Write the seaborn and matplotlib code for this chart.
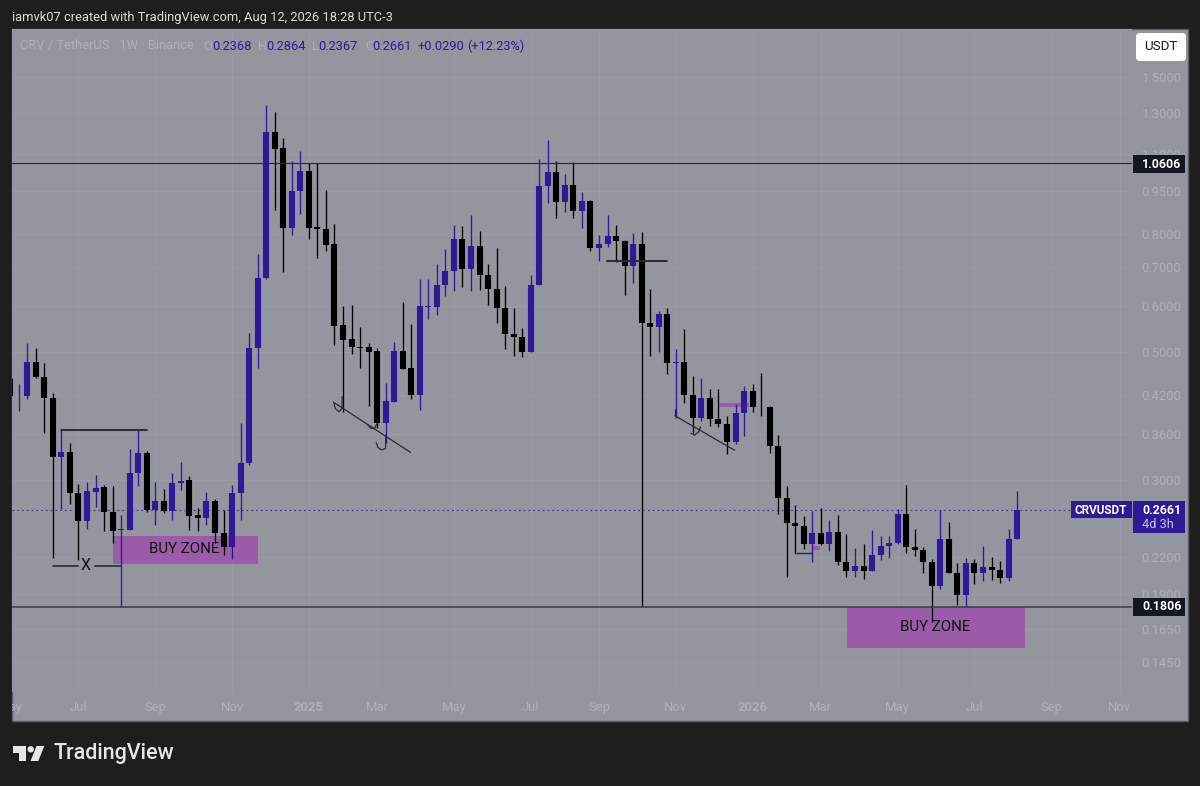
import numpy as np
import pandas as pd
import matplotlib
matplotlib.use("Agg")
import matplotlib.pyplot as plt
from matplotlib.patches import Rectangle, FancyBboxPatch, Polygon, Circle
from matplotlib.ticker import NullLocator
from matplotlib.transforms import Affine2D, blended_transform_factory
import seaborn as sns

first_week = pd.Timestamp("2024-05-06")

open_ = [.4479,.4183,.4188,.4804,.4523,.4159,.3286,.3349,.2847,.2546,
 .2860,.2911,.2636,.2450,.2453,.3083,.3335,.2652,.2757,.2645,
 .2955,.2995,.2604,.2570,.2757,.2426,.2294,.2840,.3201,.5079,
 .6718,1.2043,1.1300,.8202,.9491,1.0293,.8216,.8158,.7679,.5569,
 .5261,.5100,.5093,.5008,.3765,.4095,.5020,.4676,.4200,.5979,
 .5985,.6534,.6903,.7830,.6953,.7616,.6801,.6427,.5951,.5372,
 .5307,.5000,.6534,.9692,1.0251,.9094,.9731,.8783,.9130,.7554,
 .7697,.7937,.7772,.7040,.7679,.5615,.5522,.5805,.4785,.4798,
 .4200,.3829,.4154,.3818,.3741,.3490,.3918,.4274,.4013,.4003,
 .3434,.2789,.2519,.2492,.2319,.2421,.2319,.2436,.2159,.2079,
 .2126,.2084,.2221,.2300,.2332,.2611,.2294,.2264,.2161,.1960,
 .2362,.2067,.1889,.2147,.2062,.2112,.2090,.2021,.2368]
close = [.4188,.4193,.4804,.4523,.4159,.3286,.3349,.2847,.2543,.2863,
 .2899,.2633,.2443,.2458,.3083,.3335,.2654,.2757,.2645,.2959,
 .2987,.2596,.2570,.2754,.2426,.2294,.2840,.3201,.5079,.6718,
 1.2043,1.1245,.8202,.9491,1.0293,.8202,.8158,.7657,.5540,.5240,
 .5087,.5079,.5000,.3765,.4111,.5020,.4657,.4200,.6000,.5993,
 .6534,.6903,.7830,.6953,.7616,.6801,.6427,.5951,.5372,.5307,
 .5000,.6534,.9692,1.0251,.9094,.9731,.8783,.9130,.7554,.7697,
 .7937,.7772,.7040,.7679,.5615,.5522,.5805,.4785,.4798,.4200,
 .3829,.4154,.3818,.3741,.3490,.3918,.4274,.4003,.4003,.3434,
 .2789,.2519,.2492,.2319,.2421,.2317,.2436,.2159,.2079,.2126,
 .2084,.2221,.2300,.2332,.2611,.2294,.2264,.2161,.1960,.2362,
 .2067,.1889,.2147,.2062,.2112,.2090,.2021,.2368,.2661]
high = [.4555,.4389,.5171,.5066,.4773,.4234,.3664,.3468,.2943,.2971,
 .3055,.2935,.2923,.2601,.3383,.3664,.3367,.2971,.2891,.3076,
 .3218,.3042,.2673,.2855,.2771,.2657,.2932,.3756,.5381,.7378,
 1.3396,1.3013,1.1722,1.0700,1.1149,1.0606,1.0606,.9530,.8328,.6000,
 .6025,.5510,.5183,.5066,.4407,.5204,.6106,.5585,.6690,.6678,
 .7098,.7541,.8304,.8270,.8621,.8099,.7089,.7572,.6499,.5944,
 .5488,.6792,1.0778,1.1650,1.0726,1.0169,1.0657,.9453,.9167,.7960,
 .8621,.8294,.7813,.8044,.8077,.6419,.5883,.5951,.5045,.5465,
 .4531,.4505,.4311,.4311,.3866,.4057,.4354,.4389,.4587,.4024,
 .3584,.2923,.2710,.2593,.2646,.2673,.2553,.2604,.2414,.2279,
 .2319,.2453,.2394,.2397,.2662,.2935,.2458,.2294,.2182,.2657,
 .2530,.2147,.2189,.2182,.2300,.2198,.2170,.2458,.2864]
low = [.4154,.3950,.4142,.4505,.3609,.2194,.2662,.2721,.2176,.2464,
 .2691,.2440,.2326,.1806,.2453,.2923,.2639,.2502,.2628,.2553,
 .2878,.2453,.2446,.2505,.2326,.2219,.2185,.2553,.3179,.4676,
 .6690,.8808,.6884,.7969,.8657,.7849,.7276,.7477,.5135,.3934,
 .4947,.4688,.4029,.3680,.3468,.4095,.4657,.4142,.3961,.5687,
 .5789,.6244,.6380,.6481,.6365,.6398,.6032,.5601,.5045,.4919,
 .4899,.4994,.6526,.9046,.8516,.8748,.8516,.8202,.7486,.7184,
 .7604,.7164,.6278,.6571,.1806,.4913,.5000,.4574,.3829,.4078,
 .3609,.3786,.3715,.3699,.3318,.3458,.3569,.3934,.3866,.3340,
 .2611,.2029,.2234,.2269,.2159,.2313,.2255,.2132,.2029,.2029,
 .2015,.2079,.2173,.2189,.2319,.2234,.2210,.2062,.1700,.1941,
 .2062,.1817,.1810,.1976,.2002,.2008,.1986,.2002,.2367]

price_ticks = [1.5, 1.3, 1.1, .95, .8, .7, .6, .5, .42, .36, .30, .22, .19, .165, .145]
month_dates = ["2024-07-01","2024-09-02","2024-11-04","2025-01-06","2025-03-03","2025-05-05",
               "2025-07-07","2025-09-01","2025-11-03","2026-01-05","2026-03-02","2026-05-04",
               "2026-07-06","2026-09-07","2026-11-02"]
month_labels = ["Jul","Sep","Nov","2025","Mar","May","Jul","Sep","Nov","2026","Mar","May","Jul","Sep","Nov"]
resistance, support, last_price = 1.0606, 0.1806, 0.2661

DARK, PANE, GRID, AXTXT = "#1e1e1e", "#93959f", "#9a9ca6", "#aeb0b9"
UP, DOWN, ZONE = "#2e1a96", "#000000", "#9a5ba8"
LINE = "#26262e"

sns.set_theme(style="darkgrid", rc={"axes.facecolor": PANE, "figure.facecolor": DARK,
                                    "grid.color": GRID, "grid.linewidth": 0.7})
plt.rcParams["font.family"] = ["Roboto", "DejaVu Sans"]

W, H = 1200, 786
fig = plt.figure(figsize=(W/100, H/100), dpi=100, facecolor=DARK)
L, R, T, B = 12, 1131.7, 29, 692
ax = fig.add_axes([L/W, 1-B/H, (R-L)/W, (B-T)/H])
px = Affine2D().scale(1, -1).translate(0, H)

def wk(i):
    return first_week + pd.Timedelta(days=float(7*i))

n = len(close)
dates = [wk(i) for i in range(n)]
direction = ["up" if c >= o else "down" for o, c in zip(open_, close)]
candles = pd.DataFrame(dict(date=dates, o=open_, h=high, l=low, c=close, dir=direction, id=range(n)))
wicks = candles.melt(id_vars=["date", "dir", "id"], value_vars=["h", "l"], value_name="price")
bodies = candles.melt(id_vars=["date", "dir", "id"], value_vars=["o", "c"], value_name="price")
palette = {"up": UP, "down": DOWN}

ax.set_yscale("log")
ax.set_axisbelow(True)
for frame, lw in ((wicks, 0.95), (bodies, 4.4)):
    sns.lineplot(data=frame, x="date", y="price", hue="dir", units="id", estimator=None,
                 palette=palette, legend=False, linewidth=lw, solid_capstyle="butt", ax=ax, sort=False)

ax.set_ylim(0.12838, 1.8150)
ax.set_xlim(pd.Timestamp("2024-05-07 12:00"), pd.Timestamp("2026-11-12"))
ax.set_xlabel(""); ax.set_ylabel("")
ax.yaxis.tick_right()
ax.set_yticks(price_ticks)
ax.set_yticklabels([f"{v:.4f}" for v in price_ticks])
ax.yaxis.set_minor_locator(NullLocator())
ax.tick_params(axis="y", which="both", length=0, pad=7, labelsize=9.4, labelcolor=AXTXT)
ax.set_xticks(pd.to_datetime(month_dates))
ax.set_xticklabels(month_labels)
ax.tick_params(axis="x", length=0, pad=6.5, labelsize=9.4, labelcolor=AXTXT)
for t in ax.get_xticklabels():
    if t.get_text().startswith("20"):
        t.set_fontweight("bold")
for s in ax.spines.values():
    s.set_visible(False)

# pane behind the axes and price column
panel = Rectangle((11.5, 29), 1176.5, 692, transform=px, facecolor=PANE, edgecolor="#5c5e64", lw=1, zorder=-1)
fig.add_artist(panel)
may = ax.text(wk(0), -15/(B-T), "May", transform=blended_transform_factory(ax.transData, ax.transAxes),
              ha="center", va="center", fontsize=9.4, color=AXTXT)
may.set_clip_on(True)
may.set_clip_path(panel)

# levels
ax.axhline(resistance, color=LINE, lw=0.8, zorder=3)
ax.axhline(support, color="#3c3c46", lw=1.1, zorder=3)
ax.axhline(last_price, color=UP, lw=0.8, ls=(0, (1.5, 2.8)), alpha=0.8, zorder=1.5)

# zones and drawings
def span(a, b, lo, hi):
    ax.fill_between([wk(a), wk(b)], lo, hi, color=ZONE, lw=0, zorder=1)
span(12, 29, .2144, .2391)
span(98.1, 118.9, .1529, .1800)
span(83.1, 86.6, .4003, .4069)
span(94, 94.9, .2264, .2300)
ax.text(wk(20.4), .2272, "BUY ZONE", ha="center", va="center", fontsize=10.8, color="#111111", zorder=6)
ax.text(wk(108.4), .1665, "BUY ZONE", ha="center", va="center", fontsize=10.8, color="#111111", zorder=6)
ax.text(wk(8.8), .2124, "X", ha="center", va="center", fontsize=11.5, color="#111111", zorder=6)

drawings = [
    ([6, 16], [.3664, .3664], 1.4), ([5, 7.9], [.2124, .2124], 1.2), ([9.9, 13], [.2124, .2124], 1.2),
    ([37.9, 46.9], [.4085, .3345], 0.9),
    ([38.9, 38.9, 38.5, 38.1, 37.9], [.4176, .3986, .3934, .3986, .4085], 0.9),
    ([43.0, 42.7, 42.3, 41.9], [.3756, .3680, .3680, .3730], 0.9),
    ([44.0, 44.0, 43.5, 43.1, 42.9], [.3584, .3397, .3376, .3411, .3476], 0.9),
    ([77.9, 84.9], [.3871, .3372], 0.9), ([77.9, 77.9], [.3871, .3980], 0.9),
    ([80.9, 80.7, 80.2, 79.8], [.3704, .3632, .3584, .3609], 0.9),
    ([92, 94], [.2234, .2234], 1.0), ([69.9, 77], [.7184, .7184], 1.4),
]
for xs, ys, lw in drawings:
    ax.plot([wk(v) for v in xs], ys, color="#2b2b33", lw=lw, zorder=4)

# header and footer
def txt(x, y, s, **k):
    k.setdefault("va", "center"); k.setdefault("fontsize", 9.3)
    fig.text(x, y, s, transform=px, zorder=7, **k)

txt(11.5, 17, "iamvk07 created with TradingView.com, Aug 12, 2026 18:28 UTC-3", color="#dcdcdc", fontsize=9.25)
txt(19.6, 46, "CRV / TetherUS · 1W · Binance", color=AXTXT, fontsize=9.25)
for x, s in ((203, "O"), (258, "H"), (312, "L"), (365, "C")):
    txt(x, 46, s, color=AXTXT, fontsize=9.25)
for x, s in ((212, "0.2368"), (266, "0.2864"), (318.5, "0.2367"), (372.6, "0.2661"), (418, "+0.0290"), (467.6, "(+12.23%)")):
    txt(x, 46, s, color=UP, fontsize=9.2)

fig.add_artist(FancyBboxPatch((1138, 35), 46, 24, boxstyle="round,pad=2,rounding_size=4", transform=px,
                              facecolor="white", edgecolor="none", zorder=6))
txt(1160.5, 47, "USDT", ha="center", color="#131722", fontsize=9.6)

def label(x0, x1, y0, y1, color):
    fig.add_artist(Rectangle((x0, y0), x1-x0, y1-y0, transform=px, facecolor=color, edgecolor="none", zorder=6))
label(1132.7, 1185, 155, 172.7, "#131722")
txt(1142, 164, "1.0606", color="white", fontweight="bold", fontsize=8.9)
label(1132.7, 1185, 598.3, 616, "#131722")
txt(1142, 607, "0.1806", color="white", fontweight="bold", fontsize=8.9)
label(1071, 1131.7, 500.7, 518.3, UP)
txt(1101, 510, "CRVUSDT", ha="center", color="white", fontweight="bold", fontsize=8.5)
label(1132.7, 1185, 500.7, 533.3, UP)
txt(1142, 510, "0.2661", color="white", fontweight="bold", fontsize=8.9)
txt(1142, 525, "4d 3h", color="#c9c6e6", fontsize=9.2)

LOGO = "#e6e6e6"
fig.add_artist(Polygon([(13.3, 746), (26, 746), (26, 761), (19.3, 761), (19.3, 752.7), (13.3, 752.7)],
                       transform=px, facecolor=LOGO, edgecolor="none", zorder=7))
fig.add_artist(Circle((30.7, 749.3), 3.2, transform=px, facecolor=LOGO, edgecolor="none", zorder=7))
fig.add_artist(Polygon([(36.5, 746), (44.3, 746), (38.3, 761), (30.5, 761)],
                       transform=px, facecolor=LOGO, edgecolor="none", zorder=7))
txt(53, 753.5, "TradingView", color=LOGO, fontsize=15.5, fontweight=500)

fig.savefig("out.png", dpi=100, facecolor=DARK)
